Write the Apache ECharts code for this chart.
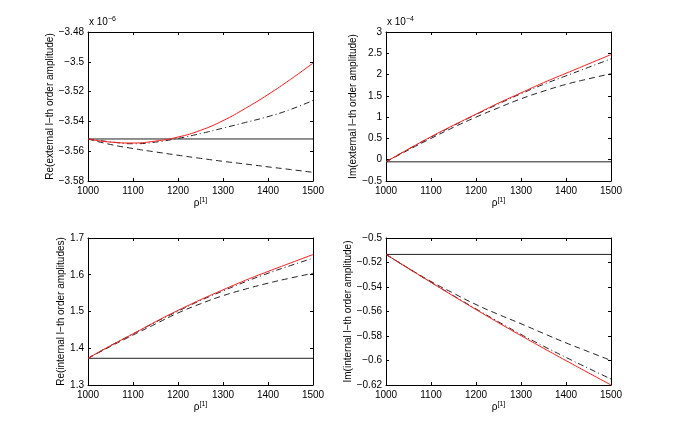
<!DOCTYPE html>
<html>
<head>
    <meta charset="utf-8">
    <title>ECharts</title>
    <script type="text/javascript" src="https://cdn.jsdelivr.net/npm/echarts@6/dist/echarts.min.js"></script>
    <style>
        html, body { margin: 0; padding: 0; background: #fff; }
    </style>
</head>
<body>
    <div id="chart" style="width: 675px;height:434px;"></div>
</body>
<script type="text/javascript">
    // x values shared by all four panels
    var rho = [1000, 1050, 1100, 1150, 1200, 1250, 1300, 1350, 1400, 1450, 1500];

    // top left: Re(external), in units of 1e-6
    var reExtBase = -3.5518;
    var reExtRed = [-3.5518, -3.5539, -3.5545, -3.5532, -3.5505, -3.5460, -3.5395, -3.5312, -3.5220, -3.5118, -3.5009];
    var reExtDash = [-3.5518, -3.5555, -3.5582, -3.5605, -3.5627, -3.5648, -3.5668, -3.5686, -3.5705, -3.5723, -3.5742];
    var reExtDashDot = [-3.5518, -3.5537, -3.5550, -3.5539, -3.5514, -3.5482, -3.5445, -3.5407, -3.5368, -3.5320, -3.5259];

    // top right: Im(external), in units of 1e-4
    var imExtBase = -0.05;
    var imExtRed = [-0.05, 0.25, 0.54, 0.81, 1.07, 1.33, 1.57, 1.81, 2.03, 2.25, 2.47];
    var imExtDash = [-0.05, 0.23, 0.50, 0.76, 1.00, 1.22, 1.43, 1.61, 1.77, 1.90, 2.02];
    var imExtDashDot = [-0.05, 0.25, 0.53, 0.80, 1.06, 1.31, 1.55, 1.77, 1.97, 2.17, 2.37];

    // bottom left: Re(internal)
    var reIntBase = 1.3727;
    var reIntRed = [1.3727, 1.407, 1.439, 1.472, 1.503, 1.532, 1.559, 1.585, 1.609, 1.632, 1.655];
    var reIntDash = [1.3727, 1.405, 1.436, 1.466, 1.496, 1.521, 1.543, 1.561, 1.577, 1.591, 1.604];
    var reIntDashDot = [1.3727, 1.407, 1.439, 1.471, 1.501, 1.530, 1.556, 1.581, 1.604, 1.625, 1.645];

    // bottom right: Im(internal)
    var imIntBase = -0.5134;
    var imIntRed = [-0.5134, -0.5249, -0.5362, -0.5474, -0.5584, -0.5692, -0.5797, -0.5900, -0.6001, -0.6101, -0.6200];
    var imIntDash = [-0.5134, -0.5247, -0.5355, -0.5451, -0.5543, -0.5624, -0.5700, -0.5779, -0.5856, -0.5928, -0.6000];
    var imIntDashDot = [-0.5134, -0.5249, -0.5361, -0.5471, -0.5579, -0.5684, -0.5787, -0.5883, -0.5975, -0.6064, -0.6151];

    var panels = [
        { name: 'Re(external l\u2212th order amplitude)', min: -3.58, max: -3.48, step: 0.02, gap: 28,
          base: reExtBase, red: reExtRed, dash: reExtDash, dashdot: reExtDashDot },
        { name: 'Im(external l\u2212th order amplitude)', min: -0.5, max: 3, step: 0.5, gap: 27,
          base: imExtBase, red: imExtRed, dash: imExtDash, dashdot: imExtDashDot },
        { name: 'Re(internal l\u2212th order amplitudes)', min: 1.3, max: 1.7, step: 0.1, gap: 18,
          base: reIntBase, red: reIntRed, dash: reIntDash, dashdot: reIntDashDot },
        { name: 'Im(internal l\u2212th order amplitude)', min: -0.62, max: -0.5, step: 0.02, gap: 25,
          base: imIntBase, red: imIntRed, dash: imIntDash, dashdot: imIntDashDot }
    ];

    var grids = [
        { left: 88, top: 32, width: 225, height: 149 },
        { left: 386, top: 32, width: 225, height: 149 },
        { left: 88, top: 238, width: 225, height: 147 },
        { left: 386, top: 238, width: 225, height: 147 }
    ];

    var font = 'Liberation Sans, Arial, sans-serif';
    var lineStyle = { color: '#000', width: 1 };

    function fmt(v) {
        return String(+v.toFixed(4)).replace('-', '\u2212');
    }
    function zip(ys) {
        return rho.map(function (x, i) { return [x, ys[i]]; });
    }

    var xAxis = [], yAxis = [], series = [];
    panels.forEach(function (p, i) {
        xAxis.push({
            type: 'value', gridIndex: i, min: 1000, max: 1500, interval: 100,
            position: 'bottom',
            axisLine: { onZero: false, lineStyle: lineStyle },
            axisTick: { inside: true, length: 3, lineStyle: lineStyle },
            splitLine: { show: false },
            axisLabel: { color: '#000', fontSize: 10, fontFamily: font, margin: 5, formatter: fmt },
            name: '{a|\u03c1}{b|[1]}', nameLocation: 'middle', nameGap: 13,
            nameTextStyle: {
                rich: {
                    a: { fontSize: 10, fontFamily: font, color: '#000' },
                    b: { fontSize: 7, fontFamily: font, color: '#000', padding: [0, 0, 6, 0] }
                }
            }
        });
        xAxis.push({
            type: 'value', gridIndex: i, min: 1000, max: 1500, interval: 100,
            position: 'top',
            axisLine: { onZero: false, lineStyle: lineStyle },
            axisTick: { inside: true, length: 3, lineStyle: lineStyle },
            splitLine: { show: false },
            axisLabel: { show: false }
        });
        yAxis.push({
            type: 'value', gridIndex: i, min: p.min, max: p.max, interval: p.step,
            position: 'left',
            axisLine: { show: true, onZero: false, lineStyle: lineStyle },
            axisTick: { show: true, inside: true, length: 3, lineStyle: lineStyle },
            splitLine: { show: false },
            axisLabel: { color: '#000', fontSize: 10, fontFamily: font, margin: 4, formatter: fmt },
            name: p.name, nameLocation: 'middle', nameRotate: 90, nameGap: p.gap,
            nameTextStyle: { color: '#000', fontSize: 10, fontFamily: font }
        });
        yAxis.push({
            type: 'value', gridIndex: i, min: p.min, max: p.max, interval: p.step,
            position: 'right',
            axisLine: { show: true, onZero: false, lineStyle: lineStyle },
            axisTick: { show: true, inside: true, length: 3, lineStyle: lineStyle },
            splitLine: { show: false },
            axisLabel: { show: false }
        });

        var common = { type: 'line', xAxisIndex: 2 * i, yAxisIndex: 2 * i, symbol: 'none', silent: true };
        series.push(Object.assign({}, common, {
            data: [[1000, p.base], [1500, p.base]],
            lineStyle: { color: '#222', width: 1 }
        }));
        series.push(Object.assign({}, common, {
            data: zip(p.dash), smooth: true,
            lineStyle: { color: '#222', width: 1, type: [6, 4] }
        }));
        series.push(Object.assign({}, common, {
            data: zip(p.dashdot), smooth: true,
            lineStyle: { color: '#222', width: 1, type: [6, 3, 1, 3] }
        }));
        series.push(Object.assign({}, common, {
            data: zip(p.red), smooth: true,
            lineStyle: { color: '#ff1a1a', width: 1 }
        }));
    });

    var chart = echarts.init(document.getElementById('chart'));
    chart.setOption({
        animation: false,
        backgroundColor: '#fff',
        grid: grids,
        xAxis: xAxis,
        yAxis: yAxis,
        series: series,
        graphic: [
            {
                type: 'text', left: 89, top: 16,
                style: {
                    text: '{a|x 10}{b|\u22126}',
                    rich: {
                        a: { fontSize: 10, fontFamily: font, fill: '#000' },
                        b: { fontSize: 7, fontFamily: font, fill: '#000', padding: [0, 0, 6, 0] }
                    }
                }
            },
            {
                type: 'text', left: 387, top: 16,
                style: {
                    text: '{a|x 10}{b|\u22124}',
                    rich: {
                        a: { fontSize: 10, fontFamily: font, fill: '#000' },
                        b: { fontSize: 7, fontFamily: font, fill: '#000', padding: [0, 0, 6, 0] }
                    }
                }
            }
        ]
    });
</script>
</html>
